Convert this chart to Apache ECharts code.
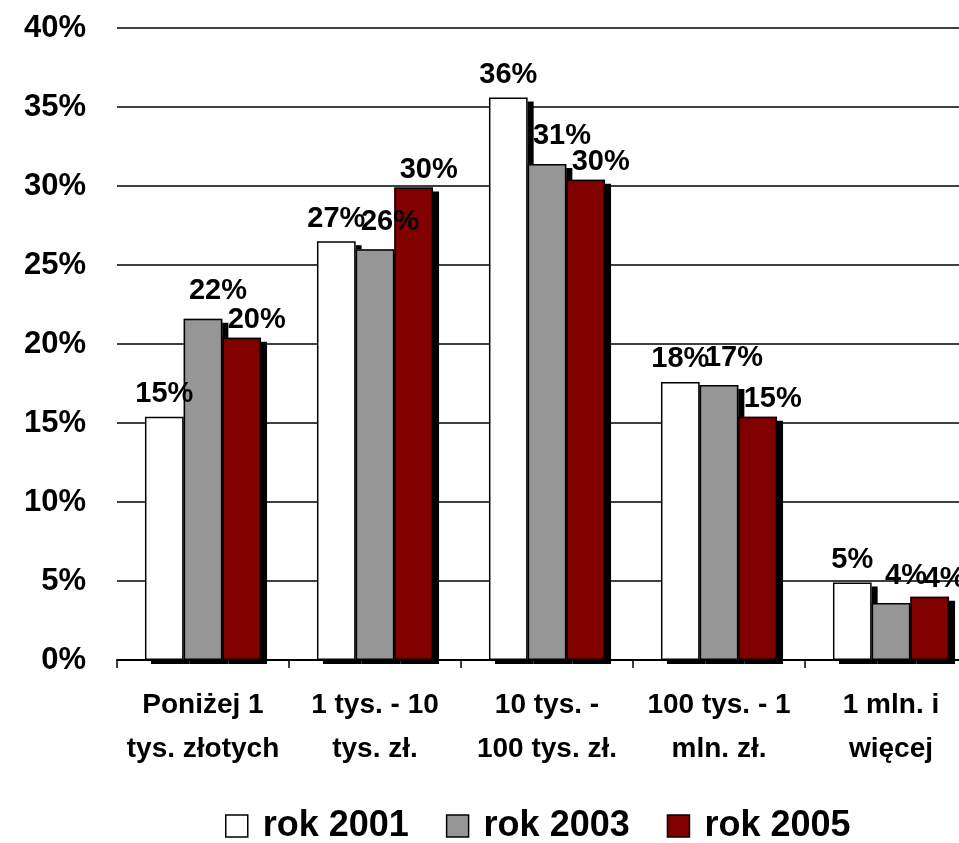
<!DOCTYPE html>
<html lang="pl">
<head>
    <meta charset="UTF-8">
    <script src="https://cdn.jsdelivr.net/npm/echarts@6/dist/echarts.min.js"></script>
    <style>
        html, body { margin: 0; padding: 0; background: #fff; }
        #main { width: 959px; height: 843px; }
    </style>
</head>
<body>
<div id="main"></div>
<script>
    var categories = ['Poniżej 1\ntys. złotych', '1 tys. - 10\ntys. zł.', '10 tys. -\n100 tys. zł.', '100 tys. - 1\nmln. zł.', '1 mln. i\nwięcej'];
    var rok2001 = [15.4, 26.5, 35.6, 17.6, 4.9];
    var rok2003 = [21.6, 26.0, 31.4, 17.4, 3.6];
    var rok2005 = [20.4, 29.9, 30.4, 15.4, 4.0];

    var font = 'Liberation Sans, Arial, sans-serif';
    var colors = ['#ffffff', '#969696', '#800000'];

    // bars are drawn twice: filled body with the black drop shadow (axis 0),
    // then an outline-only copy on a hidden twin axis so the shadow stays clean
    function body(name, data, color) {
        return {
            name: name,
            type: 'bar',
            xAxisIndex: 0,
            data: data,
            barGap: 0,
            barCategoryGap: '32.5%',
            itemStyle: {
                color: color,
                borderWidth: 0,
                shadowColor: '#000',
                shadowOffsetX: 6,
                shadowOffsetY: 4,
                shadowBlur: 0
            }
        };
    }

    function outline(name, data, offset, dist) {
        return {
            name: name,
            type: 'bar',
            xAxisIndex: 1,
            data: data,
            barGap: 0,
            barCategoryGap: '32.5%',
            itemStyle: { color: 'rgba(0,0,0,0)', borderColor: '#000', borderWidth: 1.5 },
            label: {
                show: true,
                position: 'top',
                distance: dist,
                offset: [offset, 0],
                color: '#000',
                fontFamily: font,
                fontWeight: 'bold',
                fontSize: 29,
                formatter: function (p) { return Math.round(p.value) + '%'; }
            }
        };
    }

    function legendItem(name, color) {
        return {
            name: name,
            icon: 'rect',
            itemStyle: { color: color, borderColor: '#000', borderWidth: 1.5, shadowBlur: 0, shadowOffsetX: 0, shadowOffsetY: 0 }
        };
    }

    var chart = echarts.init(document.getElementById('main'));
    chart.setOption({
        animation: false,
        grid: { left: 117, width: 860, top: 28, bottom: 183, outerBoundsMode: 'none' },
        legend: {
            left: 220,
            top: 803,
            itemWidth: 22,
            itemHeight: 22,
            itemGap: 37,
            textStyle: { fontFamily: font, fontWeight: 'bold', fontSize: 36, color: '#000', padding: [0, 0, 0, 10] },
            data: [
                legendItem('rok 2001', colors[0]),
                legendItem('rok 2003', colors[1]),
                legendItem('rok 2005', colors[2])
            ]
        },
        xAxis: [{
            type: 'category',
            data: categories,
            axisLine: { lineStyle: { color: '#000', width: 2 } },
            axisTick: { show: true, length: 8, lineStyle: { color: '#000', width: 1.5 } },
            axisLabel: {
                interval: 0,
                margin: 23,
                lineHeight: 44,
                color: '#000',
                fontFamily: font,
                fontWeight: 'bold',
                fontSize: 28
            }
        }, {
            type: 'category',
            data: categories,
            show: false
        }],
        yAxis: {
            type: 'value',
            min: 0,
            max: 40,
            interval: 5,
            axisLine: { show: false },
            axisTick: { show: false },
            splitLine: { lineStyle: { color: '#000', width: 1.5 } },
            axisLabel: {
                margin: 31,
                color: '#000',
                fontFamily: font,
                fontWeight: 'bold',
                fontSize: 31,
                formatter: '{value}%'
            }
        },
        series: [
            body('rok 2001', rok2001, colors[0]),
            body('rok 2003', rok2003, colors[1]),
            body('rok 2005', rok2005, colors[2]),
            outline('rok 2001', rok2001, 0, 8),
            outline('rok 2003', rok2003, 15, 13),
            outline('rok 2005', rok2005, 15, 3)
        ]
    });
</script>
</body>
</html>
